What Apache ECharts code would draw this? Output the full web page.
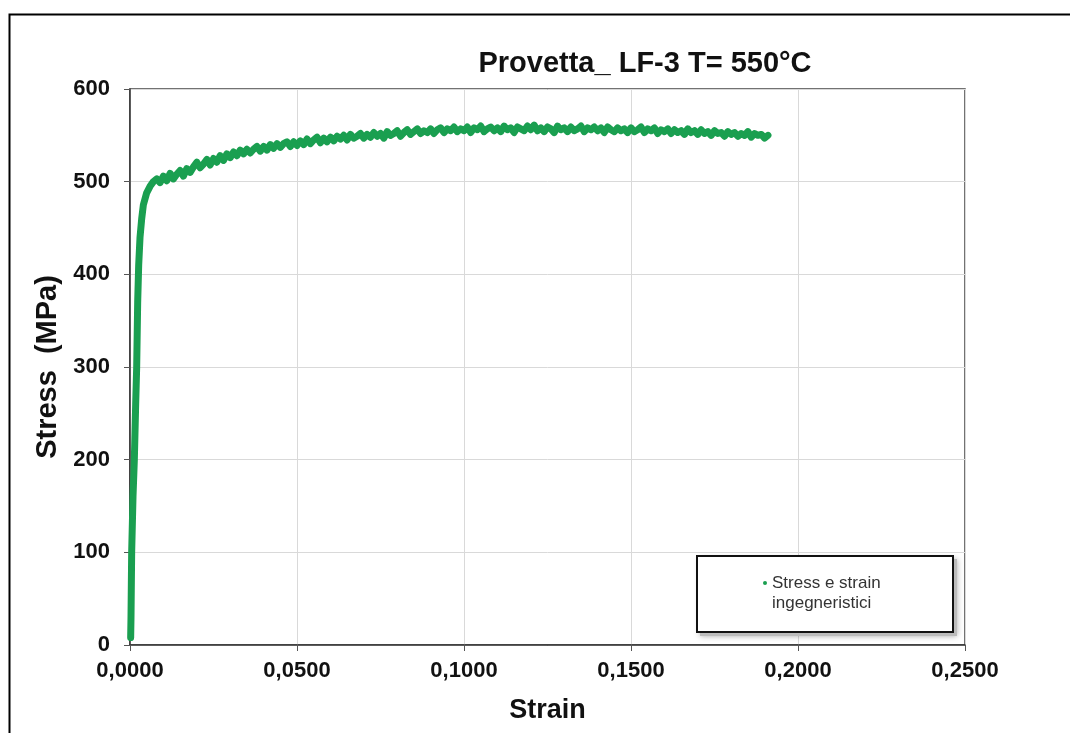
<!DOCTYPE html>
<html>
<head>
<meta charset="utf-8">
<script src="https://cdn.jsdelivr.net/npm/echarts@6/dist/echarts.min.js"></script>
<style>
html,body{margin:0;padding:0;background:#fff;}
#chart{width:1070px;height:733px;}
</style>
</head>
<body>
<div id="chart"></div>
<script>
var titleText = 'Provetta_ LF-3 T= 550°C';
var xAxisName = 'Strain';
var yAxisName = 'Stress  (MPa)';
var seriesName = 'Stress e strain\ningegneristici';
var xTicks = [0, 0.05, 0.10, 0.15, 0.20, 0.25];
var yTicks = [0, 100, 200, 300, 400, 500, 600];

// elastic part and knee
var strainElastic = [0.0002,0.0003,0.0005,0.0009,0.0013,0.0017,0.0020,0.0023,0.0026,0.0030,0.0035,0.0040,0.0050,0.0060,0.0070];
var stressElastic = [8,30,100,160,200,260,300,370,410,440,460,475,488,495,500];

// plastic part (read every 0.001 of strain)
var strainPlastic = [
  0.008,0.009,
  0.010,0.011,0.012,0.013,0.014,0.015,0.016,0.017,0.018,0.019,
  0.020,0.021,0.022,0.023,0.024,0.025,0.026,0.027,0.028,0.029,
  0.030,0.031,0.032,0.033,0.034,0.035,0.036,0.037,0.038,0.039,
  0.040,0.041,0.042,0.043,0.044,0.045,0.046,0.047,0.048,0.049,
  0.050,0.051,0.052,0.053,0.054,0.055,0.056,0.057,0.058,0.059,
  0.060,0.061,0.062,0.063,0.064,0.065,0.066,0.067,0.068,0.069,
  0.070,0.071,0.072,0.073,0.074,0.075,0.076,0.077,0.078,0.079,
  0.080,0.081,0.082,0.083,0.084,0.085,0.086,0.087,0.088,0.089,
  0.090,0.091,0.092,0.093,0.094,0.095,0.096,0.097,0.098,0.099,
  0.100,0.101,0.102,0.103,0.104,0.105,0.106,0.107,0.108,0.109,
  0.110,0.111,0.112,0.113,0.114,0.115,0.116,0.117,0.118,0.119,
  0.120,0.121,0.122,0.123,0.124,0.125,0.126,0.127,0.128,0.129,
  0.130,0.131,0.132,0.133,0.134,0.135,0.136,0.137,0.138,0.139,
  0.140,0.141,0.142,0.143,0.144,0.145,0.146,0.147,0.148,0.149,
  0.150,0.151,0.152,0.153,0.154,0.155,0.156,0.157,0.158,0.159,
  0.160,0.161,0.162,0.163,0.164,0.165,0.166,0.167,0.168,0.169,
  0.170,0.171,0.172,0.173,0.174,0.175,0.176,0.177,0.178,0.179,
  0.180,0.181,0.182,0.183,0.184,0.185,0.186,0.187,0.188,0.189,
  0.190,0.191
];
var stressPlastic = [
  503,499,
  506,501,509,503,508,512,506,514,510,516,
  521,515,519,524,518,525,521,528,523,530,
  526,532,528,534,530,535,531,535,538,533,
  538,534,540,536,541,537,541,543,538,543,
  539,544,540,546,541,545,548,542,547,543,
  548,544,549,546,550,545,551,547,549,552,
  547,551,548,553,549,552,547,554,550,552,
  555,549,553,556,551,554,557,552,555,553,
  557,552,556,558,553,557,555,559,554,557,
  555,559,553,558,556,560,554,557,559,555,
  558,554,560,556,558,553,559,557,555,560,
  556,561,555,558,554,559,557,553,560,556,
  558,554,559,555,557,560,554,558,556,559,
  555,558,553,559,556,554,558,555,557,553,
  558,554,556,559,553,557,555,558,552,556,
  554,557,552,556,553,555,551,557,553,555,
  551,556,552,554,550,555,552,553,549,554,
  551,553,549,552,550,554,548,552,550,551,
  547,550
];

var strain = strainElastic.concat(strainPlastic);
var stress = stressElastic.concat(stressPlastic);
var data = strain.map(function (s, i) { return [s, stress[i]]; });
var green = '#1a9f50';
var font = 'Liberation Sans, Arial, sans-serif';

var chart = echarts.init(document.getElementById('chart'), null, {renderer: 'canvas'});
chart.setOption({
  animation: false,
  backgroundColor: '#fff',
  title: {
    text: titleText,
    left: 640, top: 44, textAlign: 'center',
    textStyle: {fontFamily: font, fontSize: 29, fontWeight: 'bold', color: '#111'}
  },
  grid: {left: 130, right: 105, top: 89, bottom: 88, show: true, borderColor: '#444', borderWidth: 1.5, backgroundColor: 'transparent'},
  xAxis: {
    type: 'value', min: 0, max: 0.25, interval: 0.05,
    name: xAxisName, nameLocation: 'middle', nameGap: 52,
    nameTextStyle: {fontFamily: font, fontSize: 27, fontWeight: 'bold', color: '#111'},
    axisLine: {show: true, onZero: false, lineStyle: {color: '#333', width: 1.5}},
    axisTick: {show: true, length: 6, inside: false, lineStyle: {color: '#555'}},
    splitLine: {show: true, lineStyle: {color: '#d9d9d9', width: 1}},
    axisLabel: {
      margin: 15, fontFamily: font, fontSize: 22, fontWeight: 'bold', color: '#111',
      formatter: function (v) { return v.toFixed(4).replace('.', ','); }
    }
  },
  yAxis: {
    type: 'value', min: 0, max: 600, interval: 100,
    name: yAxisName, nameLocation: 'middle', nameGap: 68, nameRotate: 90,
    nameTextStyle: {fontFamily: font, fontSize: 29, fontWeight: 'bold', color: '#111'},
    axisLine: {show: true, lineStyle: {color: '#333', width: 1.5}},
    axisTick: {show: true, length: 6, inside: false, lineStyle: {color: '#555'}},
    splitLine: {show: true, lineStyle: {color: '#d9d9d9', width: 1}},
    axisLabel: {margin: 20, fontFamily: font, fontSize: 22, fontWeight: 'bold', color: '#111'}
  },
  legend: {
    show: true,
    left: 758, top: 568,
    z: 20,
    orient: 'vertical',
    itemWidth: 4, itemHeight: 24, itemGap: 4,
    symbolKeepAspect: false,
    textStyle: {fontFamily: font, fontSize: 17, color: '#333', lineHeight: 20},
    data: [{
      name: seriesName,
      icon: 'path://M0,2a2,2 0 1,0 4,0a2,2 0 1,0 -4,0Z M2,24 L2,24',
      itemStyle: {color: green}
    }]
  },
  graphic: [
    {type: 'rect', left: 7, top: 12, shape: {width: 1100, height: 800}, style: {fill: 'none', stroke: '#000', lineWidth: 2}, silent: true, z: 100},
    {type: 'rect', left: 700, top: 559, shape: {width: 257, height: 77}, style: {fill: '#bbb', stroke: 'none', shadowBlur: 6, shadowColor: 'rgba(0,0,0,0.35)'}, silent: true, z: 9},
    {type: 'rect', left: 696, top: 555, shape: {width: 256, height: 76}, style: {fill: '#fff', stroke: '#111', lineWidth: 2}, silent: true, z: 10}
  ],
  series: [{
    name: seriesName,
    type: 'line',
    data: data,
    showSymbol: false,
    symbol: 'circle',
    smooth: false,
    lineStyle: {color: green, width: 7, join: 'round', cap: 'round'},
    itemStyle: {color: green},
    z: 5
  }]
});
</script>
</body>
</html>
